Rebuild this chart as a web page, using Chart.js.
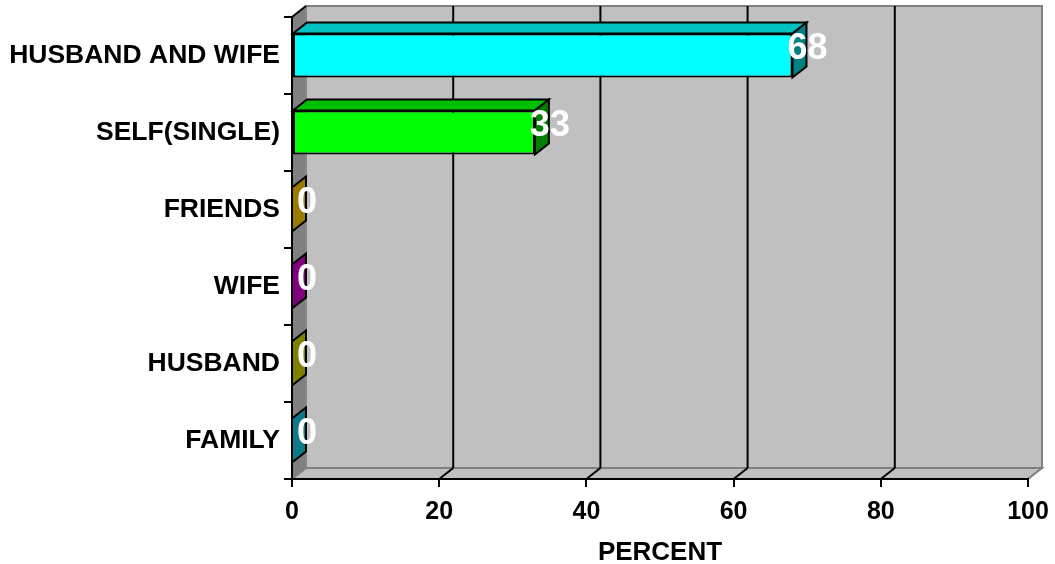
<!DOCTYPE html>
<html>
<head>
<meta charset="utf-8">
<script src="https://cdn.jsdelivr.net/npm/chart.js@4.4.1/dist/chart.umd.min.js"></script>
<style>
  html, body { margin: 0; padding: 0; background: #fff; }
  #wrap { width: 1055px; height: 564px; }
</style>
</head>
<body>
<div id="wrap"><canvas id="chart"></canvas></div>
<script>
var categories = ['HUSBAND AND WIFE', 'SELF(SINGLE)', 'FRIENDS', 'WIFE', 'HUSBAND', 'FAMILY'];
var percent = [68, 33, 0, 0, 0, 0];
var xTicks = [0, 20, 40, 60, 80, 100];

var frontColors = ['#00ffff', '#00ff00', '#ffcc00', '#ff00ff', '#ffff00', '#1cb4d8'];
var topColors = ['#00c0c0', '#00c000', '#c09900', '#c000c0', '#c0c000', '#1587a2'];
var sideColors = ['#008080', '#008000', '#9a7b00', '#800080', '#808000', '#0e7a8c'];

var FONT = '"Liberation Sans", Arial, sans-serif';
var DX = 14, DY = -11;

function poly(ctx, pts, fill, stroke, lw) {
  ctx.beginPath();
  ctx.moveTo(pts[0][0], pts[0][1]);
  for (var i = 1; i < pts.length; i++) ctx.lineTo(pts[i][0], pts[i][1]);
  ctx.closePath();
  if (fill) { ctx.fillStyle = fill; ctx.fill(); }
  if (stroke) { ctx.strokeStyle = stroke; ctx.lineWidth = lw || 2; ctx.stroke(); }
}

function line(ctx, x1, y1, x2, y2, color, lw) {
  ctx.beginPath();
  ctx.moveTo(x1, y1);
  ctx.lineTo(x2, y2);
  ctx.strokeStyle = color;
  ctx.lineWidth = lw || 2;
  ctx.stroke();
}

// back wall, side wall and floor of the 3d box
var walls = {
  id: 'walls',
  beforeDraw: function (chart) {
    var ctx = chart.ctx;
    var a = chart.chartArea;
    var xs = chart.scales.x;
    ctx.save();
    ctx.lineJoin = 'miter';
    // back wall
    poly(ctx, [[a.left + DX, a.top + DY], [a.right + DX, a.top + DY], [a.right + DX, a.bottom + DY], [a.left + DX, a.bottom + DY]], '#c0c0c0', '#808080', 2);
    // floor
    poly(ctx, [[a.left, a.bottom], [a.left + DX, a.bottom + DY], [a.right + DX, a.bottom + DY], [a.right, a.bottom]], '#c0c0c0', '#808080', 2);
    // left wall
    poly(ctx, [[a.left, a.top], [a.left + DX, a.top + DY], [a.left + DX, a.bottom + DY], [a.left, a.bottom]], '#808080', null);
    line(ctx, a.left + DX, a.top + DY, a.left + DX, a.bottom + DY, '#8c8c8c', 1);
    line(ctx, a.left, a.top, a.left + DX, a.top + DY, '#000', 2);
    // gridlines on the back wall + floor
    xTicks.forEach(function (v) {
      if (v === xTicks[0] || v === xTicks[xTicks.length - 1]) return;
      var x = xs.getPixelForValue(v);
      line(ctx, x + DX, a.top + DY, x + DX, a.bottom + DY, '#000', 2);
      line(ctx, x, a.bottom, x + DX, a.bottom + DY, '#000', 2);
    });
    ctx.restore();
  }
};

// top and end faces of the bars, then value labels
var bars3d = {
  id: 'bars3d',
  afterDatasetsDraw: function (chart) {
    var ctx = chart.ctx;
    var meta = chart.getDatasetMeta(0);
    ctx.save();
    ctx.lineJoin = 'miter';
    meta.data.forEach(function (el, i) {
      var x0 = el.base, x1 = el.x;
      var yT = el.y - el.height / 2, yB = el.y + el.height / 2;
      if (x1 - x0 > 0.5) {
        poly(ctx, [[x0, yT], [x0 + DX, yT + DY], [x1 + DX, yT + DY], [x1, yT]], topColors[i], '#000', 2);
      }
      poly(ctx, [[x1, yT], [x1 + DX, yT + DY], [x1 + DX, yB + DY], [x1, yB]], sideColors[i], '#000', 2);
    });
    ctx.fillStyle = '#fff';
    ctx.font = 'bold 36px ' + FONT;
    ctx.textAlign = 'center';
    ctx.textBaseline = 'middle';
    meta.data.forEach(function (el, i) {
      ctx.fillText(String(percent[i]), el.x + DX + 1, el.y - 6);
    });
    ctx.restore();
  }
};

new Chart(document.getElementById('chart'), {
  type: 'bar',
  data: {
    labels: categories,
    datasets: [
      {
        data: percent,
        backgroundColor: frontColors,
        borderColor: '#000',
        borderWidth: 2,
        borderSkipped: false,
        barPercentage: 0.57,
        categoryPercentage: 1
      }
    ]
  },
  options: {
    indexAxis: 'y',
    responsive: true,
    maintainAspectRatio: false,
    animation: false,
    layout: { padding: { top: 17, right: 27, left: 0, bottom: 0 } },
    plugins: {
      legend: { display: false },
      tooltip: { enabled: false }
    },
    scales: {
      x: {
        min: 0,
        max: 100,
        afterBuildTicks: function (scale) {
          scale.ticks = xTicks.map(function (v) { return { value: v }; });
        },
        afterFit: function (scale) {
          scale.height = 85;
          scale.paddingLeft = 0;
          scale.paddingRight = 0;
        },
        grid: { drawOnChartArea: false, drawTicks: true, tickLength: 8, color: '#000', lineWidth: 2 },
        border: { display: true, color: '#000', width: 2 },
        ticks: { color: '#000', padding: 10, maxRotation: 0, font: { family: FONT, size: 25, weight: 'bold' } },
        title: {
          display: true,
          text: 'PERCENT',
          color: '#000',
          padding: { top: 0, bottom: 0 },
          font: { family: FONT, size: 26, weight: 'bold', lineHeight: 0.85 }
        }
      },
      y: {
        afterFit: function (scale) {
          scale.width = 292;
          scale.paddingTop = 0;
          scale.paddingBottom = 0;
        },
        grid: { drawOnChartArea: false, drawTicks: true, tickLength: 8, color: '#000', lineWidth: 2 },
        border: { display: true, color: '#000', width: 2 },
        ticks: { color: '#000', padding: 4, font: { family: FONT, size: 26.5, weight: 'bold' } }
      }
    }
  },
  plugins: [walls, bars3d]
});
</script>
</body>
</html>
